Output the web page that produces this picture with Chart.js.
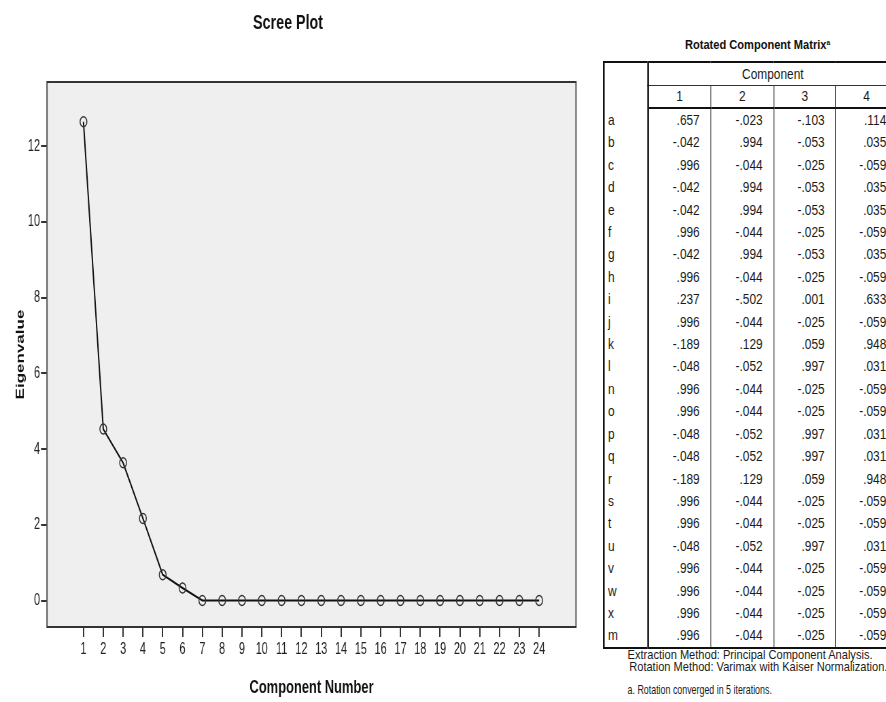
<!DOCTYPE html>
<html>
<head>
<meta charset="utf-8">
<script src="https://cdn.jsdelivr.net/npm/chart.js@4.4.1/dist/chart.umd.min.js"></script>
<style>
  html, body { margin:0; padding:0; background:#fff; width:886px; height:702px; overflow:hidden; }
  #wrap { position:relative; width:886px; height:702px; overflow:hidden; }
  #c { position:absolute; left:0; top:0; }
  #right { position:absolute; left:603px; top:0; width:360px; height:702px; transform:scaleX(0.82); transform-origin:0 0;
           font-family:'Liberation Sans', Arial, sans-serif; color:#1a1a1a; }
  #ttl { position:absolute; left:100px; top:36px; line-height:18px; font-size:13.5px; font-weight:bold; color:#111; white-space:nowrap; }
  #ttl sup { font-size:8px; vertical-align:top; position:relative; top:-2px; }
  #tbl { position:absolute; left:0; top:61px; border-collapse:collapse; table-layout:fixed; width:358.5px;
         font-size:14.5px; border:2px solid #111; }
  #tbl td { padding:0; white-space:nowrap; overflow:hidden; }
  #tbl .hd1 td { height:22px; line-height:22px; }
  #tbl .hd2 td { height:21px; line-height:21px; text-align:center; border-bottom:2px solid #111; }
  #tbl .hd2 td + td { border-left:1px solid #333; }
  #tbl td.lab { text-align:left; padding-left:4px; border-right:2px solid #111; }
  #tbl td.comp { text-align:center; border-bottom:1px solid #333; }
  #tbl tbody.body td { height:22.4px; line-height:22.4px; text-align:right; padding-right:13px; }
  #tbl tbody.body td.lab { text-align:left; padding-left:4px; padding-right:0; }
  #tbl tbody.body td.v + td.v { border-left:1px solid #333; }
  .fn { position:absolute; font-size:13.5px; line-height:12px; white-space:nowrap; }
  .fn.small { transform:scaleX(0.8); transform-origin:0 0; }
</style>
</head>
<body>
<div id="wrap">
  <canvas id="c" width="868" height="702" style="width:590px;height:702px;"></canvas>
  <div id="right">
    <div id="ttl">Rotated Component Matrix<sup>a</sup></div>
    <table id="tbl">
      <colgroup><col style="width:53.7px"><col style="width:76.8px"><col style="width:76.8px"><col style="width:75.6px"><col style="width:75.6px"></colgroup>
      <tbody class="head">
        <tr class="hd1"><td class="lab" rowspan="2"></td><td class="comp" colspan="4">Component</td></tr>
        <tr class="hd2" id="hdrow"></tr>
      </tbody>
      <tbody class="body" id="tb"></tbody>
    </table>
    <div class="fn" style="left:30px; top:649px;">Extraction Method: Principal Component Analysis.</div>
    <div class="fn" style="left:32px; top:661px;">Rotation Method: Varimax with Kaiser Normalization.</div>
    <div class="fn small" style="left:30px; top:684px;">a. Rotation converged in 5 iterations.</div>
  </div>
</div>
<script>
// ---- Scree plot data ----
const components = [1,2,3,4,5,6,7,8,9,10,11,12,13,14,15,16,17,18,19,20,21,22,23,24];
const eigenvalues = [12.65,4.53,3.64,2.17,0.68,0.33,0,0,0,0,0,0,0,0,0,0,0,0,0,0,0,0,0,0];
const yTickValues = [0,2,4,6,8,10,12];

// ---- Rotated component matrix data ----
const variableLabels = ['a','b','c','d','e','f','g','h','i','j','k','l','n','o','p','q','r','s','t','u','v','w','x','m'];
const componentHeaders = ['1','2','3','4'];
const comp1 = [.657,-.042,.996,-.042,-.042,.996,-.042,.996,.237,.996,-.189,-.048,.996,.996,-.048,-.048,-.189,.996,.996,-.048,.996,.996,.996,.996];
const comp2 = [-.023,.994,-.044,.994,.994,-.044,.994,-.044,-.502,-.044,.129,-.052,-.044,-.044,-.052,-.052,.129,-.044,-.044,-.052,-.044,-.044,-.044,-.044];
const comp3 = [-.103,-.053,-.025,-.053,-.053,-.025,-.053,-.025,.001,-.025,.059,.997,-.025,-.025,.997,.997,.059,-.025,-.025,.997,-.025,-.025,-.025,-.025];
const comp4 = [.114,.035,-.059,.035,.035,-.059,.035,-.059,.633,-.059,.948,.031,-.059,-.059,.031,.031,.948,-.059,-.059,.031,-.059,-.059,-.059,-.059];

function fmt(v){ return (v < 0 ? '-' : '') + Math.abs(v).toFixed(3).replace(/^0/, ''); }

// build table
const hdrow = document.getElementById('hdrow');
componentHeaders.forEach(h => { const td = document.createElement('td'); td.textContent = h; hdrow.appendChild(td); });
const tb = document.getElementById('tb');
variableLabels.forEach((lab, i) => {
  const tr = document.createElement('tr');
  const l = document.createElement('td'); l.className = 'lab'; l.textContent = lab; tr.appendChild(l);
  [comp1, comp2, comp3, comp4].forEach(arr => {
    const td = document.createElement('td'); td.className = 'v'; td.textContent = fmt(arr[i]); tr.appendChild(td);
  });
  tb.appendChild(tr);
});

// ---- chart (canvas is drawn wider and squeezed horizontally by CSS, like the condensed original) ----
const SANS = "'Liberation Sans', Arial, sans-serif";
const plotBox = {
  id: 'plotBox',
  beforeDraw(chart) {
    const {ctx, chartArea: a} = chart;
    ctx.save();
    ctx.fillStyle = '#efefef';
    ctx.fillRect(a.left, a.top, a.right - a.left, a.bottom - a.top);
    ctx.restore();
  },
  beforeDatasetsDraw(chart) {
    const {ctx, chartArea: a} = chart;
    ctx.save();
    ctx.strokeStyle = '#555';
    ctx.lineWidth = 2;
    ctx.strokeRect(a.left, a.top, a.right - a.left, a.bottom - a.top);
    ctx.strokeStyle = '#333';
    ctx.lineWidth = 2;
    ctx.beginPath(); ctx.moveTo(a.left, a.top); ctx.lineTo(a.right, a.top); ctx.stroke();
    ctx.beginPath(); ctx.moveTo(a.left, a.bottom); ctx.lineTo(a.right, a.bottom); ctx.stroke();
    ctx.restore();
  }
};

new Chart(document.getElementById('c'), {
  type: 'line',
  data: {
    datasets: [{
      data: components.map((c, i) => ({x: c, y: eigenvalues[i]})),
      borderColor: '#111',
      borderWidth: 2,
      pointRadius: 5,
      pointBorderWidth: 1.5,
      pointBorderColor: '#333',
      pointBackgroundColor: 'rgba(0,0,0,0)',
      tension: 0
    }]
  },
  options: {
    responsive: false,
    devicePixelRatio: 1,
    animation: false,
    layout: { padding: { left: 0, right: 20.6, top: 0, bottom: 0 } },
    plugins: {
      legend: { display: false },
      tooltip: { enabled: false },
      title: {
        display: true,
        text: 'Scree Plot',
        color: '#111',
        font: { family: SANS, size: 21, weight: 'bold' },
        padding: { top: 10.4, bottom: 46.4 }
      }
    },
    scales: {
      x: {
        type: 'linear',
        min: -0.84,
        max: 25.86,
        afterBuildTicks: (scale) => { scale.ticks = components.map(v => ({value: v})); },
        afterFit: (scale) => { scale.height = 75; },
        border: { display: false },
        grid: { drawOnChartArea: false, drawTicks: true, tickLength: 10, color: '#333', lineWidth: 2 },
        ticks: { autoSkip: false, maxRotation: 0, color: '#222', padding: 3, font: { family: SANS, size: 16 } },
        title: { display: true, text: 'Component Number', color: '#111',
                 font: { family: SANS, size: 19, weight: 'bold' }, padding: { top: 0, bottom: 3 } }
      },
      y: {
        type: 'linear',
        min: -0.70,
        max: 13.70,
        afterBuildTicks: (scale) => { scale.ticks = yTickValues.map(v => ({value: v})); },
        afterFit: (scale) => { scale.width = 69.15; },
        border: { display: false },
        grid: { drawOnChartArea: false, drawTicks: true, tickLength: 8.8, color: '#333', lineWidth: 2 },
        ticks: { color: '#222', padding: 1.5, font: { family: SANS, size: 16 } },
        title: { display: true, text: 'Eigenvalue', color: '#111',
                 font: { family: SANS, size: 17, weight: 'bold' }, padding: { top: 20.5, bottom: 0 } }
      }
    }
  },
  plugins: [plotBox]
});
</script>
</body>
</html>
